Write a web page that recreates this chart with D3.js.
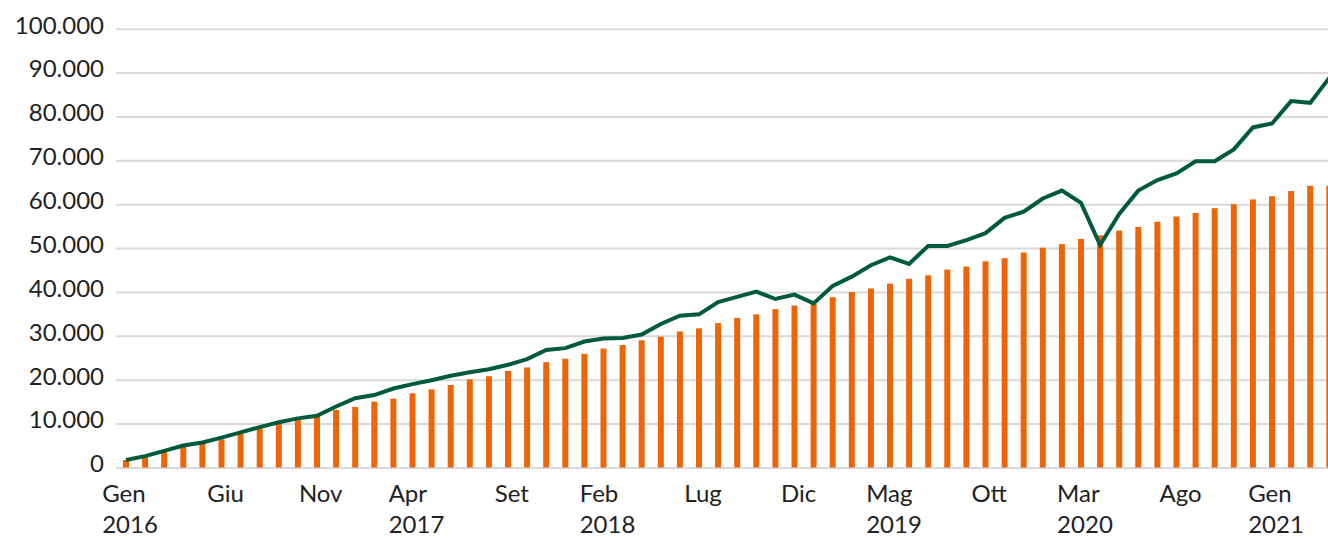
<!DOCTYPE html>
<html>
<head>
<meta charset="utf-8">
<script src="https://cdn.jsdelivr.net/npm/d3@7"></script>
<style>
  body { margin: 0; background: #fff; }
  #chart text { font-family: "Lato", "Open Sans", sans-serif; fill: #222; }
</style>
</head>
<body>
<div id="chart"></div>
<script>

width = 1328,
height = 538;

var monthNames = ["Gen","Feb","Mar","Apr","Mag","Giu","Lug","Ago","Set","Ott","Nov","Dic"];
var years = [2016, 2017, 2018, 2019, 2020, 2021];

// capitale versato (barre)
var invested = [1700,2500,3600,4700,5600,6400,7800,8900,10200,10800,
  11700,13100,13800,15000,15700,16900,17800,18800,20100,20800,
  22000,22800,24000,24800,25900,27100,27900,29000,29800,31000,
  31700,32900,34100,34900,36100,36900,37300,38800,40000,40800,
  41900,43000,43800,45100,45800,47000,47700,49000,50100,50900,
  52100,52900,54000,54800,56000,57200,58000,59100,60000,61100,
  61800,63000,64200,64200];

// valore del portafoglio (linea)
var portfolio = [1700,2600,3800,5000,5700,6800,8000,9200,10300,11200,
  11800,13900,15800,16500,18000,19000,19900,20900,21700,22400,
  23400,24700,26800,27200,28700,29400,29500,30300,32700,34600,
  34900,37700,38900,40100,38400,39400,37400,41400,43500,46100,
  47900,46400,50500,50500,51800,53400,56900,58300,61300,63100,
  60300,50700,57800,63100,65500,67000,69800,69800,72500,77500,
  78400,83500,83100,88800];

var yTicks = [0,10000,20000,30000,40000,50000,60000,70000,80000,90000,100000];
var xTickCats = ["Gen 2016","Giu 2016","Nov 2016","Apr 2017","Set 2017","Feb 2018",
  "Lug 2018","Dic 2018","Mag 2019","Ott 2019","Mar 2020","Ago 2020","Gen 2021"];

var categories = [];
years.forEach(function(yr){
  monthNames.forEach(function(m){ categories.push(m + " " + yr) })
})
categories = categories.slice(0, invested.length);

var it = d3.formatLocale({decimal: ",", thousands: ".", grouping: [3], currency: ["€", ""]});
var fmt = it.format(",d");

var svg = d3.select("#chart").append("svg")
.attr("width", width)
.attr("height", height);

var x = d3.scalePoint()
.domain(categories)
.range([126, 1329.3]);

var y = d3.scaleLinear()
.domain([0, 100000])
.range([467.5, 28.7]);

//gridlines + y labels
var yAxis = svg.append("g")
.attr("transform", "translate(116,0)")
.call(d3.axisLeft(y)
  .tickValues(yTicks)
  .tickSizeInner(-(width - 116))
  .tickSizeOuter(0)
  .tickPadding(12)
  .tickFormat(fmt));

yAxis.select(".domain").remove();
yAxis.selectAll(".tick line")
.attr("stroke", "#d9d9d9")
.attr("stroke-width", 2);
yAxis.selectAll(".tick text")
.attr("dy", "0.18em")
.style("font-size", "24px");

//bars
var barW = 6;
svg.append("g")
.selectAll("rect")
.data(invested)
.enter().append("rect")
.attr("x", function(d, i){ return x(categories[i]) - barW / 2 })
.attr("width", barW)
.attr("y", function(d){ return y(d) })
.attr("height", function(d){ return y(0) - y(d) })
.attr("fill", "#ec6608");

//line
var line = d3.line()
.x(function(d, i){ return x(categories[i]) })
.y(function(d){ return y(d) });

svg.append("path")
.datum(portfolio)
.attr("d", line)
.attr("fill", "none")
.attr("stroke", "#005a3c")
.attr("stroke-width", 4);

//x labels, year shown on first tick of each year
var seenYear = {};
var xLab = svg.append("g")
.selectAll("g")
.data(xTickCats)
.enter().append("g")
.attr("transform", function(d){ return "translate(" + (x(d) + 4) + ",0)" });

xLab.each(function(d){
  var parts = d.split(" ");
  var lines = [parts[0]];
  if (!seenYear[parts[1]]) { seenYear[parts[1]] = true; lines.push(parts[1]); }
  var g = d3.select(this);
  var t = g.append("text").style("font-size", "24px");
  lines.forEach(function(l, k){
    t.append("tspan").attr("x", 0).attr("y", 502 + k * 31).text(l);
  })
  // left aligned block, centred on the tick
  var w = t.node().getBBox().width;
  t.attr("transform", "translate(" + (-w / 2) + ",0)");
})

</script>
</body>
</html>
